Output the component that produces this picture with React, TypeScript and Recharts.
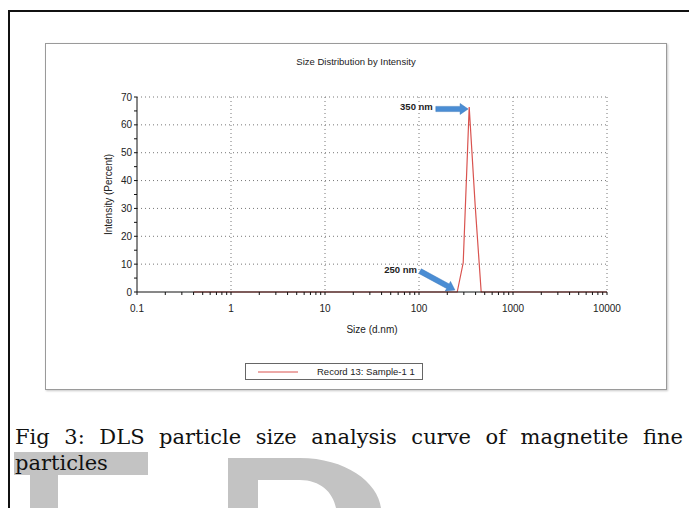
import { LineChart, Line, XAxis, YAxis, CartesianGrid, Legend, ReferenceLine } from 'recharts';

// Zetasizer size bins (d.nm) and the intensity
const sizeBins = [
  0.4, 0.4632, 0.5365, 0.6213, 0.7195, 0.8332, 0.9649, 1.117, 1.294, 1.499,
  1.736, 2.01, 2.328, 2.696, 3.122, 3.615, 4.187, 4.849, 5.615, 6.503,
  7.531, 8.721, 10.1, 11.7, 13.54, 15.69, 18.17, 21.04, 24.36, 28.21,
  32.67, 37.84, 43.82, 50.75, 58.77, 68.06, 78.82, 91.28, 105.7, 122.4,
  141.8, 164.2, 190.1, 220.2, 255, 295.3, 342, 396.1, 458.7, 531.2,
  615.1, 712.4, 825, 955.4, 1106, 1281, 1484, 1718, 1990, 2305,
  2669, 3091, 3580, 4145, 4801, 5560, 6439, 7456, 8635, 10000,
];
const intensity = [
  0, 0, 0, 0, 0, 0, 0, 0, 0, 0,
  0, 0, 0, 0, 0, 0, 0, 0, 0, 0,
  0, 0, 0, 0, 0, 0, 0, 0, 0, 0,
  0, 0, 0, 0, 0, 0, 0, 0, 0, 0,
  0, 0, 0, 0, 0, 10.5, 66.4, 31, 0, 0,
  0, 0, 0, 0, 0, 0, 0, 0, 0, 0,
  0, 0, 0, 0, 0, 0, 0, 0, 0, 0,
];

const xMajorTicks = [0.1, 1, 10, 100, 1000, 10000];
const xMinorSteps = [2, 3, 4, 5, 6, 7, 8, 9];
const yMajorTicks = [0, 10, 20, 30, 40, 50, 60, 70];
const yMinorTicks = [5, 15, 25, 35, 45, 55, 65];

// blue arrow callouts: label, start and end in data units
const arrowLabels = ['350 nm', '250 nm'];
const arrowFrom = [{ x: 151, y: 65.7 }, { x: 102.6, y: 7.5 }];
const arrowTo = [{ x: 333, y: 65.7 }, { x: 241, y: 0.7 }];

const seriesName = 'Record 13: Sample-1 1';

const data = sizeBins.map((size, i) => ({ size, value: intensity[i] }));
const xTicks = [
  ...xMajorTicks,
  ...xMajorTicks.slice(0, -1).flatMap((m) => xMinorSteps.map((k) => m * k)),
].sort((a, b) => a - b);
const yTicks = [...yMajorTicks, ...yMinorTicks].sort((a, b) => a - b);

const ARROW_BLUE = '#4a8dd4';
const sans = 'Arial, "Liberation Sans", sans-serif';
const serif = '"DejaVu Serif", serif';

const Arrow = (label: string) => (props: any) => {
  const { x1, y1, x2, y2 } = props;
  const dx = x2 - x1;
  const dy = y2 - y1;
  const len = Math.sqrt(dx * dx + dy * dy);
  const ux = dx / len;
  const uy = dy / len;
  const nx = -uy;
  const ny = ux;
  const head = 8;
  const sw = 2.6;
  const hw = 5.5;
  const bx = x2 - ux * head;
  const by = y2 - uy * head;
  const pts = [
    [x1 + nx * sw, y1 + ny * sw],
    [bx + nx * sw, by + ny * sw],
    [bx + nx * hw, by + ny * hw],
    [x2, y2],
    [bx - nx * hw, by - ny * hw],
    [bx - nx * sw, by - ny * sw],
    [x1 - nx * sw, y1 - ny * sw],
  ]
    .map((p) => p.join(','))
    .join(' ');
  return (
    <g>
      <polygon points={pts} fill={ARROW_BLUE} stroke="#3b78bd" strokeWidth={0.5} />
      <text
        x={x1 - 3}
        y={y1 - 1}
        textAnchor="end"
        dominantBaseline="middle"
        fontFamily={sans}
        fontWeight="bold"
        fontSize={9.5}
        fill="#222"
      >
        {label}
      </text>
    </g>
  );
};

const LegendBox = () => (
  <div
    style={{
      border: '1px solid #666',
      height: 17,
      width: 178,
      display: 'flex',
      alignItems: 'center',
      fontFamily: sans,
      fontSize: 9.5,
      color: '#222',
      boxSizing: 'border-box',
      background: '#fff',
    }}
  >
    <svg width={60} height={10}>
      <line x1={12} y1={5} x2={52} y2={5} stroke="#d9534f" strokeWidth={1} />
    </svg>
    <span style={{ marginLeft: 11 }}>{seriesName}</span>
  </div>
);

export default function App() {
  return (
    <div style={{ position: 'absolute', left: 0, top: 0, width: 689, height: 508, background: '#fff', overflow: 'hidden' }}>
      {/* outer page frame */}
      <div style={{ position: 'absolute', left: 8, top: 10, width: 700, height: 2, background: '#111' }} />
      <div style={{ position: 'absolute', left: 8, top: 10, width: 2, height: 520, background: '#111' }} />

      {/* chart panel */}
      <div
        style={{
          position: 'absolute',
          left: 45,
          top: 43,
          width: 622,
          height: 347,
          border: '1.5px solid #9a9a9a',
          boxShadow: '1px 1px 2px #c8c8c8',
          boxSizing: 'border-box',
        }}
      />
      <div
        style={{
          position: 'absolute',
          left: 45,
          top: 56,
          width: 622,
          textAlign: 'center',
          fontFamily: sans,
          fontSize: 9.5,
          lineHeight: '12px',
          color: '#222',
        }}
      >
        Size Distribution by Intensity
      </div>
      <div style={{ position: 'absolute', left: 45, top: 43 }}>
        <LineChart width={622} height={347} data={data} margin={{ top: 54, right: 60, left: 47, bottom: 54 }}>
          <CartesianGrid
            stroke="#777"
            strokeDasharray="1 3"
            horizontalValues={yMajorTicks.slice(1)}
            verticalValues={xMajorTicks.slice(1)}
          />
          <XAxis
            dataKey="size"
            type="number"
            scale="log"
            domain={[0.1, 10000]}
            allowDataOverflow
            ticks={xTicks}
            interval={0}
            tickFormatter={(v: number) => (xMajorTicks.includes(v) ? String(v) : '')}
            tickSize={3}
            tickMargin={10}
            stroke="#111"
            tick={{ fill: '#222', fontSize: 10, fontFamily: sans }}
            height={44}
            label={{ value: 'Size (d.nm)', position: 'insideBottom', offset: 3, fontSize: 10, fontFamily: sans, fill: '#222' }}
          />
          <YAxis
            type="number"
            domain={[0, 70]}
            ticks={yTicks}
            interval={0}
            tickFormatter={(v: number) => (yMajorTicks.includes(v) ? String(v) : '')}
            tickSize={3}
            tickMargin={2}
            stroke="#111"
            tick={{ fill: '#222', fontSize: 10, fontFamily: sans }}
            width={45}
            label={{
              value: 'Intensity (Percent)',
              angle: -90,
              position: 'insideLeft',
              offset: 16,
              fontSize: 10,
              fontFamily: sans,
              fill: '#222',
              style: { textAnchor: 'middle' },
            }}
          />
          <Line
            type="linear"
            dataKey="value"
            name={seriesName}
            stroke="#d9534f"
            strokeWidth={1.2}
            dot={false}
            isAnimationActive={false}
          />
          {arrowLabels.map((label, i) => (
            <ReferenceLine
              key={label}
              segment={[arrowFrom[i], arrowTo[i]]}
              ifOverflow="visible"
              shape={Arrow(label)}
            />
          ))}
          <Legend
            layout="vertical"
            align="center"
            verticalAlign="middle"
            content={() => <LegendBox />}
            wrapperStyle={{ left: 200, top: 320, width: 178, bottom: 'auto' }}
          />
        </LineChart>
      </div>

      {/* watermark shapes */}
      <svg width={689} height={508} style={{ position: 'absolute', left: 0, top: 0 }}>
        <rect x={14} y={452} width={134} height={23} fill="#c3c3c3" />
        <rect x={30} y={475} width={28} height={33} fill="#c3c3c3" />
        <path
          d="M228,458 L300,458 C345,458 378,482 381,508 L336,508 C333,492 320,480 300,480 L258,480 L258,508 L228,508 Z"
          fill="#c3c3c3"
        />
      </svg>

      {/* figure caption */}
      <div
        style={{
          position: 'absolute',
          left: 15,
          top: 425,
          width: 668,
          fontFamily: serif,
          fontSize: 21,
          lineHeight: '24px',
          textAlign: 'justify',
          textAlignLast: 'justify',
          color: '#111',
        }}
      >
        Fig 3: DLS particle size analysis curve of magnetite fine
      </div>
      <div
        style={{
          position: 'absolute',
          left: 15,
          top: 451,
          fontFamily: serif,
          fontSize: 21,
          lineHeight: '24px',
          color: '#111',
        }}
      >
        particles
      </div>
    </div>
  );
}
